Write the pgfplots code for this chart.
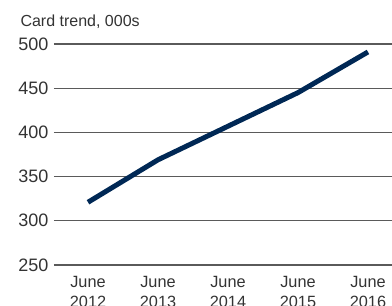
\documentclass[border=0pt]{standalone}
\usepackage{pgfplots}
\pgfplotsset{compat=1.18}
\usepackage{fontspec}
\setmainfont{Liberation Sans}
\definecolor{navy}{RGB}{0,40,85}
\definecolor{txt}{RGB}{51,51,51}
\definecolor{grid}{RGB}{90,90,90}
\begin{document}
\begin{tikzpicture}
\clip (-54pt,-41pt) rectangle (338pt,265pt);
\begin{axis}[
  at={(0,0)}, anchor=south west,
  scale only axis, width=338pt, height=221pt,
  xmin=-0.486, xmax=4.343, ymin=250, ymax=500,
  axis line style={draw=none},
  ytick={250,300,...,500},
  xtick={0,1,2,3,4},
  xticklabels={June\\2012,June\\2013,June\\2014,June\\2015,June\\2016},
  xticklabel style={align=center, font=\fontsize{16.3}{20}\selectfont, text=txt, anchor=north, yshift=-8pt},
  yticklabel style={font=\fontsize{18}{20}\selectfont, text=txt, xshift=-2pt},
  /pgf/number format/assume math mode=true,
  major tick length=0pt,
  ymajorgrids, grid style={draw=grid, line width=1.2pt},
  clip=false,
]
\addplot[navy, line width=5pt] coordinates {(0,321) (1,369) (2,407) (3,445) (4,491)};
\end{axis}
\node[anchor=west, text=txt, font=\fontsize{16}{18}\selectfont] at (-37pt,243pt) {Card trend, 000s};
\end{tikzpicture}
\end{document}
